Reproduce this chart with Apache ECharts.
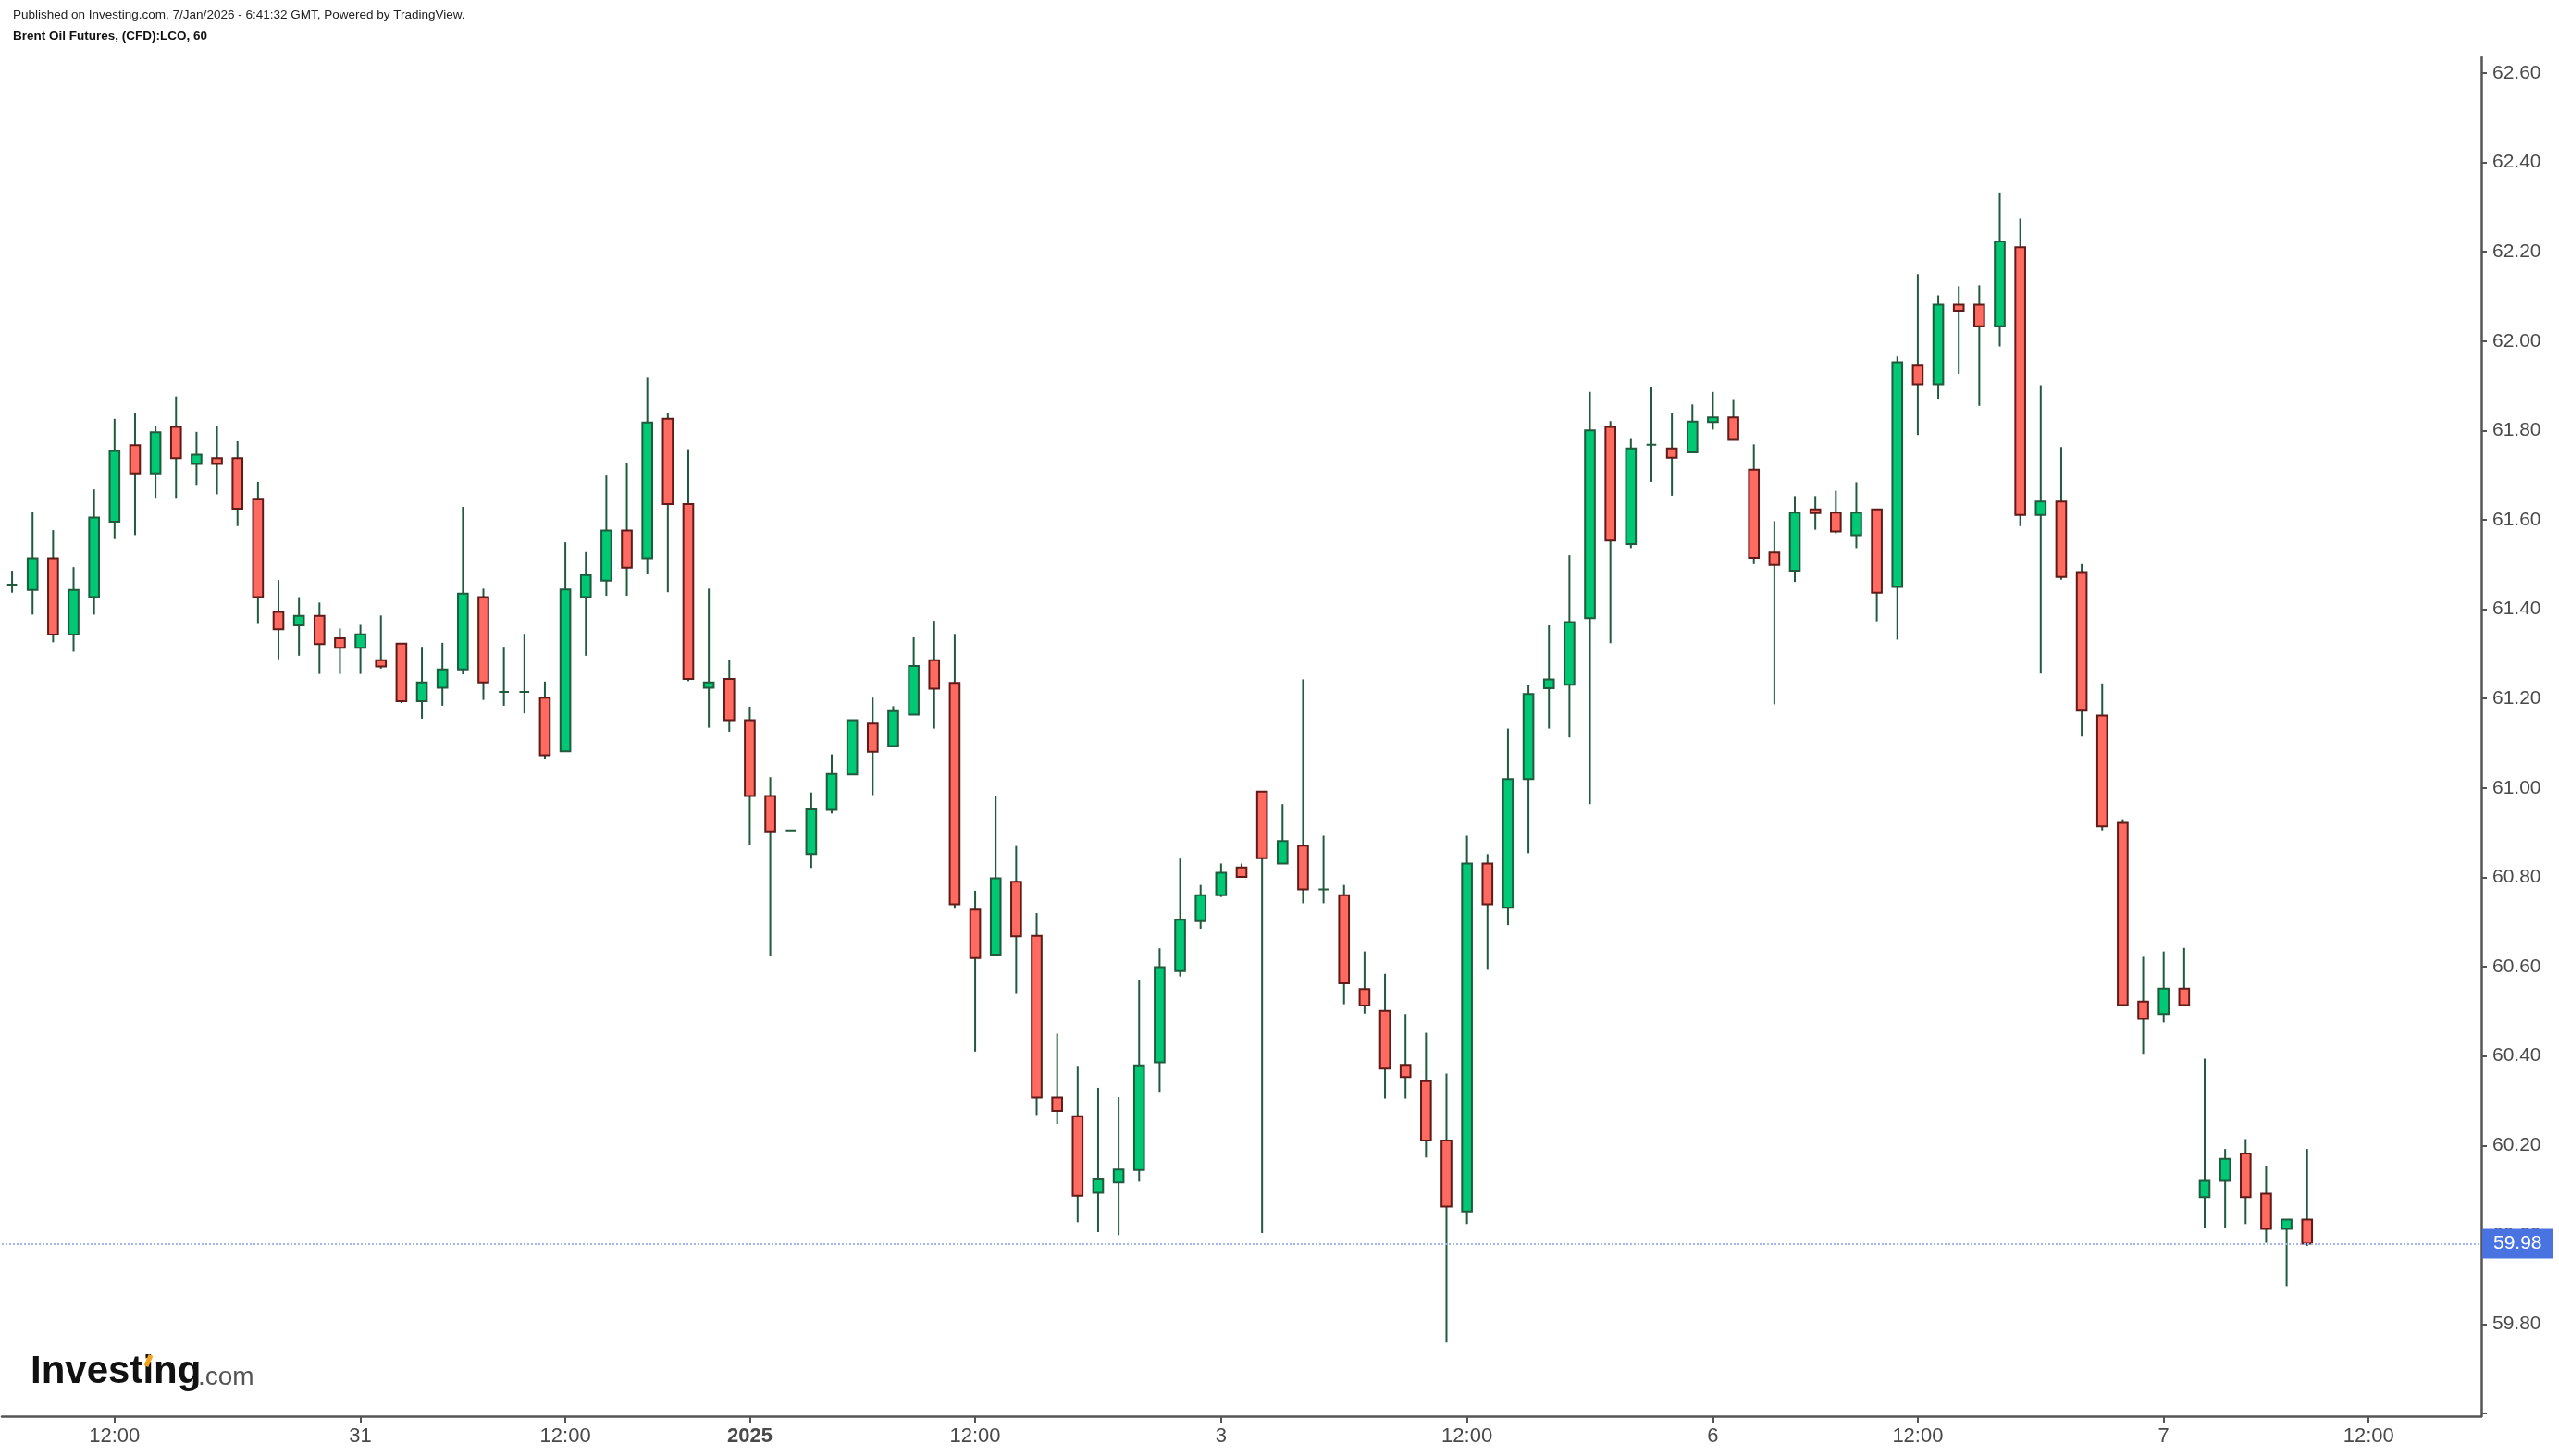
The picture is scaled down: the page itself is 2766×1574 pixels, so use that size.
<!DOCTYPE html>
<html>
<head>
<meta charset="utf-8">
<script src="https://cdn.jsdelivr.net/npm/echarts@6/dist/echarts.min.js"></script>
<style>
html,body{margin:0;padding:0;background:#fff;}
#chart{width:2766px;height:1574px;}
</style>
</head>
<body>
<div id="chart"></div>
<script>
// ---- Data (hourly candles, Brent Oil Futures) ----
const open = [61.455,61.443,61.514,61.343,61.427,61.596,61.767,61.704,61.808,61.725,61.738,61.738,61.647,61.394,61.364,61.385,61.335,61.314,61.286,61.323,
61.194,61.224,61.265,61.427,61.215,61.215,61.202,61.082,61.427,61.464,61.576,61.514,61.826,61.635,61.224,61.244,61.152,60.982,60.905,60.852,
60.951,61.030,61.144,61.094,61.164,61.286,61.235,60.728,60.627,60.790,60.669,60.307,60.265,60.094,60.117,60.145,60.386,60.590,60.702,60.760,
60.822,60.992,60.831,60.871,60.773,60.760,60.550,60.501,60.380,60.344,60.211,60.052,60.831,60.732,61.020,61.223,61.231,61.380,61.808,61.546,
61.768,61.760,61.751,61.819,61.829,61.712,61.527,61.486,61.623,61.616,61.566,61.623,61.450,61.945,61.903,62.081,62.081,62.033,62.210,61.611,
61.641,61.483,61.162,60.922,60.522,60.494,60.551,60.084,60.121,60.182,60.092,60.013,60.034];
const high = [61.486,61.618,61.577,61.494,61.668,61.826,61.838,61.809,61.876,61.797,61.809,61.776,61.685,61.465,61.427,61.415,61.357,61.365,61.386,61.323,
61.316,61.325,61.629,61.446,61.316,61.345,61.238,61.550,61.528,61.699,61.728,61.918,61.840,61.758,61.446,61.287,61.182,61.024,60.905,60.990,
61.075,61.152,61.202,61.183,61.337,61.374,61.345,60.770,60.982,60.870,60.720,60.450,60.378,60.329,60.308,60.571,60.641,60.842,60.783,60.831,
60.831,60.992,60.964,61.243,60.893,60.783,60.634,60.584,60.494,60.452,60.361,60.893,60.852,61.133,61.231,61.364,61.521,61.886,61.821,61.781,
61.898,61.838,61.858,61.886,61.870,61.769,61.597,61.653,61.653,61.665,61.684,61.623,61.966,62.150,62.102,62.123,62.125,62.331,62.274,61.901,
61.763,61.501,61.234,60.930,60.622,60.634,60.642,60.394,60.192,60.214,60.155,60.034,60.192];
const low = [61.437,61.388,61.326,61.305,61.388,61.557,61.566,61.649,61.649,61.678,61.657,61.586,61.367,61.288,61.296,61.255,61.255,61.255,61.267,61.190,
61.155,61.184,61.254,61.197,61.184,61.167,61.064,61.082,61.296,61.430,61.430,61.479,61.438,61.239,61.135,61.126,60.872,60.623,60.905,60.821,
60.943,61.030,60.984,61.094,61.164,61.133,60.730,60.410,60.627,60.539,60.268,60.248,60.028,60.006,59.999,60.119,60.318,60.578,60.685,60.756,
60.801,60.004,60.831,60.742,60.742,60.516,60.495,60.305,60.305,60.173,59.759,60.024,60.593,60.693,60.854,61.133,61.113,60.964,61.324,61.537,
61.685,61.654,61.751,61.802,61.779,61.501,61.187,61.461,61.578,61.570,61.537,61.373,61.332,61.790,61.871,61.927,61.855,61.988,61.586,61.256,
61.466,61.115,60.905,60.514,60.405,60.475,60.514,60.016,60.016,60.024,59.982,59.885,59.975];
const close = [61.455,61.514,61.343,61.443,61.605,61.754,61.704,61.796,61.738,61.746,61.725,61.625,61.427,61.355,61.385,61.322,61.314,61.344,61.272,61.194,
61.236,61.265,61.435,61.236,61.215,61.215,61.073,61.444,61.476,61.576,61.493,61.818,61.635,61.244,61.236,61.152,60.982,60.903,60.905,60.952,
61.031,61.152,61.081,61.172,61.273,61.222,60.740,60.619,60.798,60.668,60.307,60.277,60.087,60.124,60.146,60.379,60.599,60.705,60.760,60.810,
60.801,60.843,60.881,60.773,60.773,60.563,60.513,60.372,60.353,60.211,60.063,60.831,60.740,61.020,61.210,61.243,61.371,61.800,61.554,61.760,
61.768,61.739,61.820,61.829,61.779,61.515,61.499,61.616,61.615,61.574,61.616,61.437,61.953,61.903,62.081,62.068,62.033,62.223,61.611,61.641,
61.472,61.173,60.914,60.514,60.483,60.551,60.514,60.121,60.170,60.084,60.013,60.034,59.980];

// time-axis slots: 113 hourly bars followed by empty future slots
const slotCount = 121;
const xTickIndex = [5, 17, 27, 36, 47, 59, 71, 83, 93, 105, 115];
const xTickText  = ['12:00', '31', '12:00', '2025', '12:00', '3', '12:00', '6', '12:00', '7', '12:00'];
const yTickValues  = [59.6, 59.8, 60.0, 60.2, 60.4, 60.6, 60.8, 61.0, 61.2, 61.4, 61.6, 61.8, 62.0, 62.2, 62.4, 62.6];
const yLabelValues = [59.8, 60.0, 60.2, 60.4, 60.6, 60.8, 61.0, 61.2, 61.4, 61.6, 61.8, 62.0, 62.2, 62.4, 62.6];
const yMin = 59.594, yMax = 62.635;
const lastPrice = close[close.length - 1];

// ---- Build ----
const categories = [];
for (let i = 0; i < slotCount; i++) categories.push(String(i));
const candleData = open.map((o, i) => [i, o, close[i], low[i], high[i]]);

const UP_FILL = '#00c875', UP_BORDER = '#1f5b3c';
const DN_FILL = '#ff6b61', DN_BORDER = '#5e1b18';
const WICK = '#1f5b3c';

function renderItem(params, api) {
  const i = api.value(0), o = api.value(1), c = api.value(2), l = api.value(3), h = api.value(4);
  const band = api.size([1, 0])[0];
  const w = band * 0.48;
  const pO = api.coord([i, o]), pC = api.coord([i, c]);
  const pL = api.coord([i, l]), pH = api.coord([i, h]);
  const x = pO[0];
  const up = c >= o;
  const top = Math.min(pO[1], pC[1]);
  const bot = Math.max(pO[1], pC[1]);
  return {
    type: 'group',
    children: [
      { type: 'line', shape: { x1: x, y1: pH[1], x2: x, y2: pL[1] },
        style: { stroke: WICK, lineWidth: 2 } },
      { type: 'rect', shape: { x: x - w / 2, y: top, width: w, height: bot - top },
        style: { fill: up ? UP_FILL : DN_FILL, stroke: up ? UP_BORDER : DN_BORDER, lineWidth: 2 } }
    ]
  };
}

const tickMap = {};
xTickIndex.forEach((idx, k) => { tickMap[idx] = xTickText[k]; });

const chart = echarts.init(document.getElementById('chart'), null, { renderer: 'canvas' });
chart.setOption({
  animation: false,
  backgroundColor: '#ffffff',
  grid: { left: 2, right: 84, top: 62, bottom: 43 },
  xAxis: {
    type: 'category',
    data: categories,
    boundaryGap: true,
    axisLine: { show: true, lineStyle: { color: '#555555', width: 2.5 } },
    axisTick: {
      show: true, alignWithLabel: true, length: 7,
      interval: (index) => tickMap[index] !== undefined,
      lineStyle: { color: '#555555', width: 2 }
    },
    axisLabel: {
      show: true,
      interval: (index) => tickMap[index] !== undefined,
      formatter: (value, index) => {
        const t = tickMap[index];
        if (t === undefined) return '';
        return t === '2025' ? '{b|' + t + '}' : t;
      },
      rich: { b: { fontWeight: 'bold', fontSize: 22, color: '#4a4a4a', fontFamily: 'Liberation Sans' } },
      fontSize: 22, color: '#4a4a4a', fontFamily: 'Liberation Sans', margin: 11
    },
    splitLine: { show: false }
  },
  yAxis: {
    type: 'value',
    position: 'right',
    min: yMin, max: yMax,
    axisLine: { show: true, lineStyle: { color: '#555555', width: 2.5 } },
    axisTick: { show: true, length: 6, customValues: yTickValues, lineStyle: { color: '#555555', width: 2 } },
    axisLabel: {
      show: true, customValues: yLabelValues,
      formatter: (v) => v.toFixed(2),
      fontSize: 21, color: '#4a4a4a', fontFamily: 'Liberation Sans', margin: 12
    },
    splitLine: { show: false }
  },
  series: [{
    type: 'custom',
    renderItem: renderItem,
    encode: { x: 0, y: [1, 2, 3, 4] },
    data: candleData,
    clip: true,
    markLine: {
      silent: true,
      symbol: ['none', 'none'],
      lineStyle: { color: '#a3b6f0', type: 'dotted', width: 2 },
      label: {
        position: 'end', distance: 1,
        formatter: () => lastPrice.toFixed(2),
        backgroundColor: '#4a73e2', color: '#ffffff',
        fontSize: 21, fontFamily: 'Liberation Sans',
        padding: [6, 12, 5, 12]
      },
      data: [{ yAxis: lastPrice }]
    }
  }],
  graphic: [
    { type: 'text', left: 14, top: 9,
      style: { text: 'Published on Investing.com, 7/Jan/2026 - 6:41:32 GMT, Powered by TradingView.',
               fontSize: 13.5, fill: '#222222', fontFamily: 'Liberation Sans' } },
    { type: 'text', left: 14, top: 32,
      style: { text: 'Brent Oil Futures, (CFD):LCO, 60',
               fontSize: 13.5, fontWeight: 'bold', fill: '#111111', fontFamily: 'Liberation Sans' } },
    { type: 'text', left: 33, top: 1462,
      style: { text: 'Investing', fontSize: 42, fontWeight: 'bold', fill: '#111111', fontFamily: 'Liberation Sans' } },
    { type: 'text', left: 214, top: 1475,
      style: { text: '.com', fontSize: 28, fill: '#555555', fontFamily: 'Liberation Sans' } },
    { type: 'line', shape: { x1: 158, y1: 1477, x2: 163, y2: 1465 },
      style: { stroke: '#f5a31a', lineWidth: 5 }, z: 100 }
  ]
});
</script>
</body>
</html>
